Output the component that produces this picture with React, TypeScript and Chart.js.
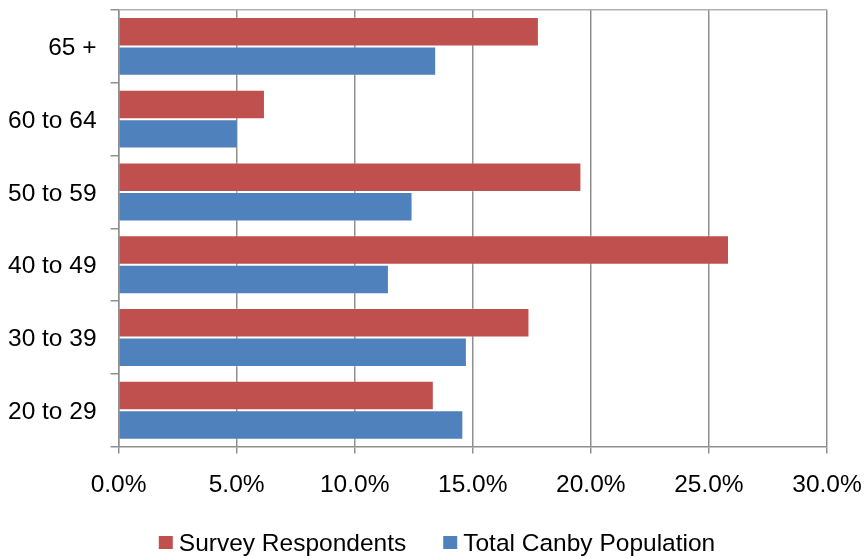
import React, { useEffect, useRef } from "react";
import { Chart, registerables } from "chart.js";

Chart.register(...registerables);

const categories = ["65 +", "60 to 64", "50 to 59", "40 to 49", "30 to 39", "20 to 29"];
const surveyRespondents = [17.8, 6.2, 19.6, 25.85, 17.4, 13.35];
const totalCanbyPopulation = [13.45, 5.05, 12.45, 11.45, 14.75, 14.6];
const xTicks = [0, 5, 10, 15, 20, 25, 30];
const seriesNames = ["Survey Respondents", "Total Canby Population"];
const seriesColors = ["#C0504D", "#4F81BD"];

const FONT = "'Liberation Sans', Arial, sans-serif";
const FS = 24.5;
const GRID = "#8f8f8f";

const customLegend = {
  id: "customLegend",
  afterDraw(chart: any) {
    const ctx = chart.ctx as CanvasRenderingContext2D;
    ctx.save();
    ctx.font = `${FS}px ${FONT}`;
    ctx.textBaseline = "middle";
    ctx.textAlign = "left";
    const box = 14;
    const gap = 6;
    const itemGap = 37;
    const widths = chart.data.datasets.map((d: any) => ctx.measureText(d.label).width);
    const total = widths.reduce((a: number, w: number) => a + box + gap + w, 0) + itemGap * (widths.length - 1);
    let x = chart.width / 2 + 5 - total / 2;
    const cy = 543;
    chart.data.datasets.forEach((d: any, i: number) => {
      ctx.fillStyle = d.backgroundColor;
      ctx.fillRect(x, cy - box / 2, box, box - 1);
      ctx.fillStyle = "#000";
      ctx.fillText(d.label, x + box + gap, cy + 1);
      x += box + gap + widths[i] + itemGap;
    });
    ctx.restore();
  },
};

export default function App() {
  const ref = useRef<HTMLCanvasElement | null>(null);

  useEffect(() => {
    if (!ref.current) return;
    const chart = new Chart(ref.current, {
      type: "bar",
      data: {
        labels: categories,
        datasets: [
          {
            label: seriesNames[0],
            data: surveyRespondents,
            backgroundColor: seriesColors[0],
            borderColor: "rgba(255,255,255,0.22)",
            borderWidth: 1,
            categoryPercentage: 0.81,
            barPercentage: 1,
          },
          {
            label: seriesNames[1],
            data: totalCanbyPopulation,
            backgroundColor: seriesColors[1],
            borderColor: "rgba(255,255,255,0.22)",
            borderWidth: 1,
            categoryPercentage: 0.81,
            barPercentage: 1,
          },
        ],
      },
      plugins: [customLegend],
      options: {
        indexAxis: "y",
        responsive: false,
        animation: false,
        layout: { padding: { left: 8, right: 37, top: 10, bottom: 59 } },
        scales: {
          x: {
            min: 0,
            max: 30,
            afterBuildTicks: (axis: any) => {
              axis.ticks = xTicks.map((v) => ({ value: v }));
            },
            afterFit: (s: any) => {
              s.paddingLeft = 0;
              s.paddingRight = 0;
              s.paddingTop = 0;
              s.paddingBottom = 0;
              s.height = s.height - s.options.ticks.padding;
            },
            ticks: {
              color: "#000",
              font: { family: FONT, size: FS },
              padding: 17,
              maxRotation: 0,
              callback: (v: any) => Number(v).toFixed(1) + "%",
            },
            grid: {
              color: GRID,
              lineWidth: 1.5,
              tickLength: 7,
              tickColor: GRID,
            },
            border: { color: GRID, width: 1.5 },
          },
          y: {
            afterFit: (s: any) => {
              s.paddingLeft = 0;
              s.paddingRight = 0;
              s.paddingTop = 0;
              s.paddingBottom = 0;
              s.width = s.width - s.options.ticks.padding;
            },
            ticks: {
              color: "#000",
              font: { family: FONT, size: FS },
              padding: 14,
              labelOffset: 2,
            },
            grid: {
              offset: true,
              drawOnChartArea: true,
              color: (c: any) => (c.index === 0 ? "#b0b0b0" : "rgba(0,0,0,0)"),
              lineWidth: 1.5,
              tickLength: 8,
              tickColor: GRID,
            },
            border: { color: GRID, width: 1.5 },
          },
        },
        plugins: {
          legend: { display: false },
          tooltip: { enabled: false },
        },
      },
    });
    return () => chart.destroy();
  }, []);

  return (
    <div style={{ position: "fixed", left: 0, top: 0, width: 864, height: 559, background: "#fff" }}>
      <canvas ref={ref} width={864} height={559} style={{ width: 864, height: 559 }} />
    </div>
  );
}
